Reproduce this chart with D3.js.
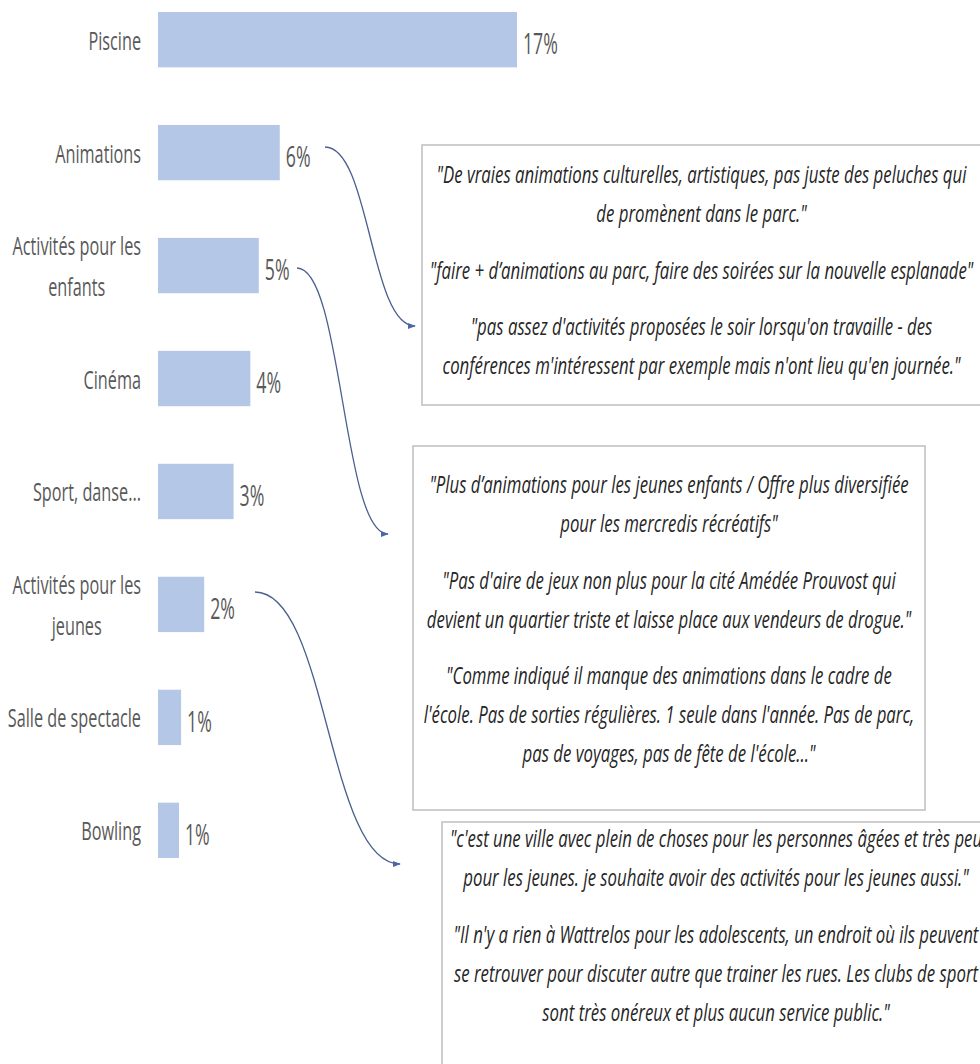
<!DOCTYPE html>
<html>
<head>
<meta charset="utf-8">
<script src="https://cdn.jsdelivr.net/npm/d3@7"></script>
<style>
  body { margin: 0; background: #fff; }
  svg { display: block; }
</style>
</head>
<body>
<div id="visual"></div>
<script>
/* bar chart of wishes + verbatim quotes */

var categories = ["Piscine", "Animations", "Activités pour les\nenfants", "Cinéma",
    "Sport, danse...", "Activités pour les\njeunes", "Salle de spectacle", "Bowling"];
var shares = [17.1, 5.8, 4.8, 4.4, 3.6, 2.2, 1.1, 1.0];
var shareLabels = ["17%", "6%", "5%", "4%", "3%", "2%", "1%", "1%"];

var quotesAnimations = [
    ["\"De vraies animations culturelles, artistiques, pas juste des peluches qui", "de promènent dans le parc.\""],
    ["\"faire + d\u2019animations au parc, faire des soirées sur la nouvelle esplanade\""],
    ["\"pas assez d'activités proposées le soir lorsqu'on travaille - des", "conférences m'intéressent par exemple mais n'ont lieu qu'en journée.\""]
];
var quotesEnfants = [
    ["\"Plus d\u2019animations pour les jeunes enfants / Offre plus diversifiée", "pour les mercredis récréatifs\""],
    ["\"Pas d'aire de jeux non plus pour la cité Amédée Prouvost qui", "devient un quartier triste et laisse place aux vendeurs de drogue.\""],
    ["\"Comme indiqué il manque des animations dans le cadre de", "l'école. Pas de sorties régulières. 1 seule dans l'année. Pas de parc,", "pas de voyages, pas de fête de l'école...\""]
];
var quotesJeunes = [
    ["\"c'est une ville avec plein de choses pour les personnes âgées et très peu", "pour les jeunes. je souhaite avoir des activités pour les jeunes aussi.\""],
    ["\"Il n'y a rien à Wattrelos pour les adolescents, un endroit où ils peuvent", "se retrouver pour discuter autre que trainer les rues. Les clubs de sport", "sont très onéreux et plus aucun service public.\""]
];

// layout of the annotation boxes and connectors
var boxes = [
    {quotes: quotesAnimations, x0: 422, y0: 145, x1: 981, y1: 405, first: 183},
    {quotes: quotesEnfants, x0: 413, y0: 446, x1: 925, y1: 810, first: 493},
    {quotes: quotesJeunes, x0: 442, y0: 822, x1: 990, y1: 1075, first: 847}
];
var arrows = [
    {source: [325, 147], target: [415, 326]},
    {source: [297, 268], target: [388, 534]},
    {source: [255, 592], target: [400, 864]}
];

var width = 980, height = 1064;
var labelFont = {size: 25, sx: 0.65, color: "#595959"};
var valueFont = {size: 30, sx: 0.59, color: "#595959"};
var quoteFont = {size: 24, sx: 0.70, color: "#262626"};
var lineStep = 39, paraGap = 17.5;

var svg = d3.select("#visual").append("svg")
    .attr("width", width)
    .attr("height", height);

svg.append("rect").attr("width", width).attr("height", height).attr("fill", "#fff");

var x = d3.scaleLinear().domain([0, 17.1]).range([158, 517]);
var y = d3.scaleBand().domain(categories).range([12, 858]).paddingInner(0.51);

function squeezed(parent, tx, ty, str, font, anchor) {
    return parent.append("text")
        .attr("transform", "translate(" + tx + "," + ty + ") scale(" + font.sx + ",1)")
        .attr("text-anchor", anchor)
        .style("font-size", font.size + "px")
        .style("fill", font.color)
        .text(str);
}

// bars
svg.selectAll(".bar")
    .data(categories)
    .enter().append("rect")
    .attr("class", "bar")
    .attr("x", x(0))
    .attr("y", function (d) { return y(d); })
    .attr("width", function (d, i) { return x(shares[i]) - x(0); })
    .attr("height", y.bandwidth())
    .attr("fill", "#b4c7e7");

// category labels (multi-line ones centred as a block, right aligned)
var labelRight = x(0) - 17;
categories.forEach(function (cat) {
    var lines = cat.split("\n");
    var cy = y(cat) + y.bandwidth() / 2;
    var g = svg.append("g").style("font-family", "'Open Sans', sans-serif");
    var nodes = lines.map(function (ln, j) {
        var by = cy + 10 + (j - (lines.length - 1) / 2) * 41;
        return squeezed(g, 0, by, ln, labelFont, "middle");
    });
    var maxW = d3.max(nodes, function (n) { return n.node().getComputedTextLength() * labelFont.sx; });
    nodes.forEach(function (n, j) {
        var by = cy + 10 + (j - (lines.length - 1) / 2) * 41;
        n.attr("transform", "translate(" + (labelRight - maxW / 2) + "," + by + ") scale(" + labelFont.sx + ",1)");
    });
});

// value labels
var vg = svg.append("g").style("font-family", "'Open Sans', sans-serif");
categories.forEach(function (cat, i) {
    squeezed(vg, x(shares[i]) + 6, y(cat) + y.bandwidth() / 2 + 14.5, shareLabels[i], valueFont, "start");
});

// quote boxes
boxes.forEach(function (b) {
    var g = svg.append("g")
        .style("font-family", "'Open Sans', sans-serif")
        .style("font-style", "italic");
    g.append("rect")
        .attr("x", b.x0).attr("y", b.y0)
        .attr("width", b.x1 - b.x0).attr("height", b.y1 - b.y0)
        .attr("fill", "#fff")
        .attr("stroke", "#bfbfbf")
        .attr("stroke-width", 1.5);
    var cx = (b.x0 + b.x1) / 2;
    var by = b.first;
    b.quotes.forEach(function (para, p) {
        if (p > 0) by += lineStep + paraGap;
        para.forEach(function (ln, j) {
            if (j > 0) by += lineStep;
            squeezed(g, cx, by, ln, quoteFont, "middle");
        });
    });
});

// curved connectors
svg.append("defs").append("marker")
    .attr("id", "arrowhead")
    .attr("viewBox", "0 -5 10 10")
    .attr("refX", 9)
    .attr("refY", 0)
    .attr("markerUnits", "userSpaceOnUse")
    .attr("markerWidth", 8)
    .attr("markerHeight", 8)
    .attr("orient", "auto")
    .append("path")
    .attr("d", "M0,-4L10,0L0,4Z")
    .attr("fill", "#4a68a8");

var link = d3.linkHorizontal();
svg.selectAll(".connector")
    .data(arrows)
    .enter().append("path")
    .attr("class", "connector")
    .attr("d", link)
    .attr("fill", "none")
    .attr("stroke", "#4a5f8f")
    .attr("stroke-width", 1.3)
    .attr("marker-end", "url(#arrowhead)");
</script>
</body>
</html>
